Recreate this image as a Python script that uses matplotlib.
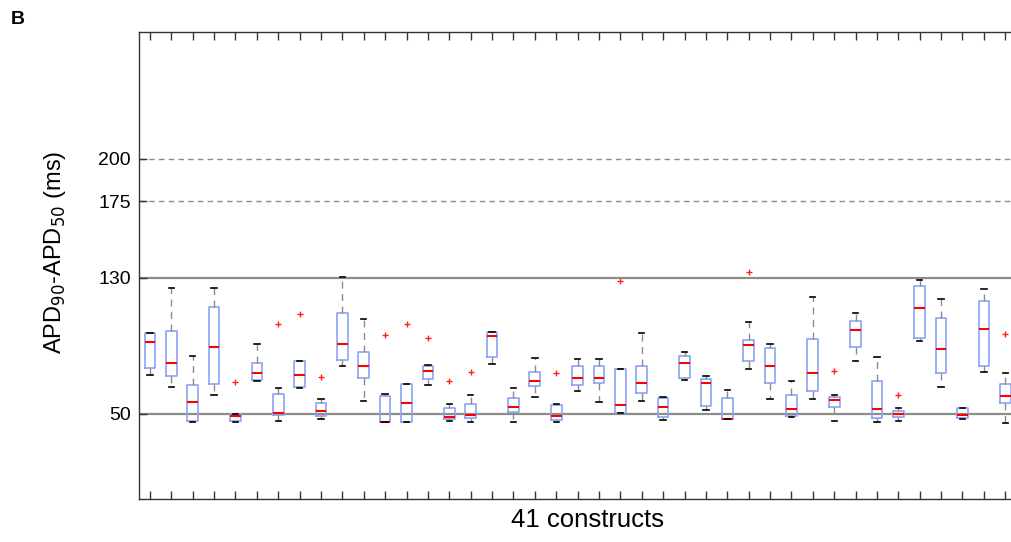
import matplotlib
matplotlib.use("Agg")
import matplotlib.pyplot as plt

plt.rcParams['font.family'] = ['Liberation Sans', 'DejaVu Sans']

# ---- data ----
constructs = list(range(1, 42))
whislo = [72.6, 65.5, 44.9, 60.8, 44.9, 69.2, 45.5, 65.1, 46.9, 77.9,
          57.3, 44.9, 44.9, 66.7, 45.7, 44.9, 79.1, 44.9, 59.6, 44.9,
          63.4, 56.7, 50.6, 57.5, 46.3, 69.6, 52.0, 46.7, 76.1, 58.5,
          48.1, 58.8, 45.5, 80.8, 44.9, 45.5, 92.6, 65.5, 46.7, 74.4, 44.4]
q1 = [76.7, 72.2, 45.9, 67.3, 45.5, 69.8, 49.0, 65.5, 48.5, 81.4,
      71.2, 44.9, 44.9, 70.2, 46.7, 47.3, 83.2, 51.2, 66.5, 46.3,
      66.7, 67.9, 50.6, 62.0, 47.9, 70.8, 54.4, 47.0, 80.8, 67.9,
      48.6, 63.2, 53.8, 89.1, 47.3, 47.9, 94.4, 73.8, 47.3, 77.9, 56.1]
med = [92.0, 79.8, 56.7, 89.6, 48.5, 73.8, 50.6, 72.6, 51.4, 91.0,
       77.9, 44.9, 56.1, 74.9, 47.9, 49.0, 95.5, 53.8, 69.1, 48.5,
       70.8, 70.8, 54.9, 67.9, 53.8, 79.6, 67.9, 46.7, 90.2, 77.9,
       52.6, 73.8, 57.9, 99.6, 52.6, 49.6, 112.0, 87.9, 49.0, 100.2, 60.2]
q3 = [97.3, 99.0, 67.1, 112.6, 49.6, 79.6, 61.8, 80.8, 56.1, 109.1,
      86.1, 60.2, 67.3, 77.9, 53.2, 55.5, 97.9, 59.1, 74.4, 55.3,
      77.9, 77.9, 76.1, 78.2, 59.1, 83.8, 70.6, 59.1, 93.2, 88.5,
      61.2, 93.8, 59.6, 104.4, 69.1, 51.4, 125.5, 106.1, 53.2, 116.1, 67.3]
whishi = [97.6, 123.8, 84.1, 123.8, 49.6, 90.8, 65.3, 80.8, 58.5, 130.6,
          105.5, 61.8, 67.3, 78.5, 55.5, 60.8, 98.3, 65.3, 83.0, 55.5,
          82.0, 82.0, 76.1, 97.6, 60.0, 86.5, 72.0, 63.8, 103.8, 90.8,
          69.1, 118.5, 61.2, 109.6, 83.5, 53.2, 128.5, 117.3, 53.2, 123.2, 73.8]
outliers = {5: [68.8], 7: [102.6], 8: [108.6], 9: [71.4], 12: [96.3],
            13: [102.8], 14: [94.9], 15: [69.4], 16: [74.4], 20: [73.8],
            23: [128.2], 29: [133.2], 33: [74.9], 36: [60.8], 41: [96.7]}
ref_solid = [50, 130]
ref_dashed = [175, 200]
ytick_vals = [50, 130, 175, 200]

# ---- figure ----
fig = plt.figure(figsize=(10.12, 5.42), dpi=100)
ax = fig.add_axes([0.1376, 0.0799, 0.8663, 0.8618])

for v in ref_solid:
    ax.axhline(v, color='#8c8c8c', lw=1.6, zorder=1)
for v in ref_dashed:
    ax.axhline(v, color='#8c8c8c', lw=1.0, ls=(0, (4, 3)), zorder=1)

stats = []
for i, c in enumerate(constructs):
    stats.append(dict(whislo=whislo[i], q1=q1[i], med=med[i], q3=q3[i],
                      whishi=whishi[i], fliers=outliers.get(c, [])))

ax.bxp(stats, positions=constructs, widths=0.5, showfliers=True,
       boxprops=dict(color='#8aa4f5', lw=1.2, zorder=2),
       medianprops=dict(color='#ff0000', lw=1.5, zorder=2.2),
       whiskerprops=dict(color='#8c8c8c', lw=1.0, ls=(0, (5, 4)), zorder=2),
       capprops=dict(color='black', lw=1.2, zorder=2.5),
       flierprops=dict(marker='+', markeredgecolor='#ff2020', markersize=5,
                       markeredgewidth=1.0, linestyle='none'),
       manage_ticks=False)

ax.set_xlim(0.5, 41.5)
ax.set_ylim(0, 275)
ax.set_xticks(constructs)
ax.set_xticklabels([])
ax.set_yticks(ytick_vals)
ax.set_yticklabels([str(v) for v in ytick_vals], fontsize=14)
ax.tick_params(axis='x', which='both', direction='in', length=5.5, width=1.0,
               top=True, bottom=True, color='#333333')
ax.tick_params(axis='y', which='both', direction='in', length=6, width=1.0,
               left=True, right=False, color='#333333', pad=6)
for s in ax.spines.values():
    s.set_color('#333333')
    s.set_linewidth(1.0)

ax.set_xlabel('41 constructs', fontsize=18.5)
ax.xaxis.set_label_coords((587.5 - 139.3) / 876.7, -(520 - 498.7) / 467.1, transform=ax.transAxes)
ax.xaxis.label.set_va('center')
ax.set_ylabel('APD$_{90}$-APD$_{50}$ (ms)', fontsize=17)
ax.yaxis.set_label_coords(-(139.3 - 55) / 876.7, (498.7 - 252) / 467.1)
ax.yaxis.label.set_va('center')

fig.text(18 / 1012, 1 - 19 / 542, 'B', fontsize=14, fontweight='bold',
         ha='center', va='center')

fig.savefig('out.png', dpi=100)
